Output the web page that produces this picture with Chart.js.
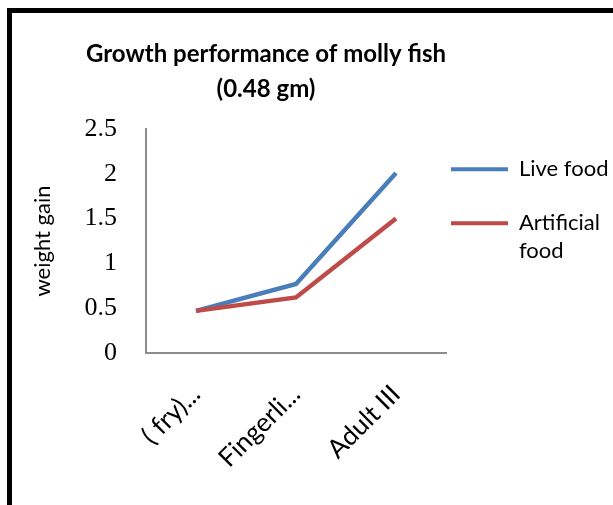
<!DOCTYPE html>
<html>
<head>
<meta charset="utf-8">
<script src="https://cdn.jsdelivr.net/npm/chart.js@4.4.1/dist/chart.umd.min.js"></script>
<style>
  html, body { margin: 0; padding: 0; background: #fff; }
  #wrap { position: relative; width: 613px; height: 505px; overflow: hidden; }
  /* cadre noir, seuls bords haut et gauche visibles */
  #frame { position: absolute; left: 7px; top: 8px; width: 700px; height: 600px;
           border-left: 5px solid #000; border-top: 5px solid #000; }
  #chart { position: absolute; left: 0; top: 0; }
</style>
</head>
<body>
<div id="wrap">
  <div id="frame"></div>
  <canvas id="chart" width="613" height="505"></canvas>
</div>
<script>
// données
const categories     = ['( fry)...', 'Fingerli...', 'Adult III'];
const liveFood       = [0.47, 0.77, 2.01];
const artificialFood = [0.47, 0.62, 1.50];
const seriesNames    = ['Live food', 'Artificial food'];
const legendTexts    = ['Live food', ['Artificial', 'food']];
const titleLines     = ['Growth performance of molly fish', '(0.48 gm)'];
const yTitle         = 'weight gain';
const yMin = 0, yMax = 2.5, yStep = 0.5;

const blue = '#4A7EBB';
const red  = '#BE4B48';
const axisGrey = '#8c8c8c';

// titre dessiné à la main (centré sur la zone graphique d'Excel, pas sur le canvas)
const titlePlugin = {
  id: 'fixedTitle',
  afterDraw(chart) {
    const ctx = chart.ctx;
    ctx.save();
    ctx.font = 'bold 24px Lato';
    ctx.fillStyle = '#000';
    ctx.textAlign = 'center';
    ctx.textBaseline = 'alphabetic';
    titleLines.forEach((t, i) => ctx.fillText(t, 266, 62 + i * 35));
    ctx.restore();
  }
};

new Chart(document.getElementById('chart').getContext('2d'), {
  type: 'line',
  data: {
    labels: categories,
    datasets: [
      { label: seriesNames[0], data: liveFood, borderColor: blue, backgroundColor: blue,
        borderWidth: 4.5, pointRadius: 0, tension: 0, order: 2 },
      { label: seriesNames[1], data: artificialFood, borderColor: red, backgroundColor: red,
        borderWidth: 4.5, pointRadius: 0, tension: 0, order: 1 }
    ]
  },
  options: {
    responsive: false,
    animation: false,
    layout: { padding: { left: 12, top: 129, right: 0, bottom: 0 } },
    plugins: {
      title: { display: false },
      tooltip: { enabled: false },
      legend: {
        position: 'right',
        align: 'start',
        maxWidth: 167,
        title: { display: true, text: ' ', font: { size: 1 }, padding: { top: 23, bottom: 0 } },
        labels: {
          color: '#000',
          font: { family: 'Lato', size: 22, lineHeight: '28px' },
          boxWidth: 57,
          boxHeight: 4,
          padding: 5,
          // un élément vide entre les deux séries pour l'espacement vertical
          generateLabels(chart) {
            const items = [];
            chart.data.datasets.forEach((ds, i) => {
              if (i > 0) items.push({ text: '', fillStyle: 'rgba(0,0,0,0)', strokeStyle: 'rgba(0,0,0,0)', lineWidth: 0, fontColor: '#000', datasetIndex: -1 });
              items.push({ text: legendTexts[i], fillStyle: ds.borderColor, strokeStyle: ds.borderColor, lineWidth: 0, fontColor: '#000', datasetIndex: i });
            });
            return items;
          }
        }
      }
    },
    scales: {
      x: {
        offset: true,
        grid: { display: false, drawTicks: false },
        border: { display: true, color: axisGrey, width: 2 },
        ticks: {
          color: '#000',
          font: { family: 'Lato', size: 26 },
          minRotation: 45, maxRotation: 45,
          autoSkip: false,
          padding: 26
        },
        afterFit(scale) { scale.height = 152; }
      },
      y: {
        min: yMin, max: yMax,
        grid: { display: false, drawTicks: false },
        border: { display: true, color: axisGrey, width: 2 },
        ticks: {
          stepSize: yStep,
          color: '#000',
          font: { family: 'Liberation Serif', size: 26 },
          padding: 29,
          callback: v => String(v)
        },
        title: {
          display: true,
          text: yTitle,
          color: '#000',
          font: { family: 'Lato', size: 22 },
          padding: { top: 18, bottom: 0 }
        },
        afterFit(scale) { scale.width = 134; }
      }
    }
  },
  plugins: [titlePlugin]
});
</script>
</body>
</html>
